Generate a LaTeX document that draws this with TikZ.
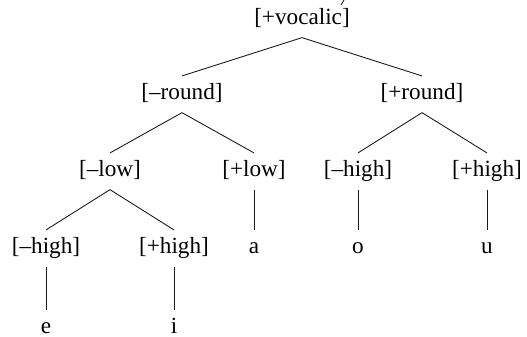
\documentclass[tikz,border=0pt]{standalone}
\usepackage{fontspec}
\setmainfont{Liberation Serif}
\usepackage{tikz}
\usetikzlibrary{positioning}
\tikzset{
  feat/.style={inner sep=0pt, text height=13.5pt, text depth=7pt, anchor=base,
    font=\fontsize{13.2}{16}\selectfont},
  branch/.style={black!90, line width=0.5pt}
}
\begin{document}
\begin{tikzpicture}[x=0.02cm, y=-0.02cm]
          \useasboundingbox (0,0) rectangle (527,337);
          % Root
          \node[feat] (vocalic) at (302,25) {[+vocalic]};
          \coordinate (cut) at (344,0);
          \coordinate (cutend) at (341,5);
          \draw[branch] (cut) -- (cutend);
          % Round
          \node[feat] (nround) at (182,100) {[--round]};
          \node[feat] (pround) at (422,100) {[+round]};
          % Low and high
          \node[feat] (nlow) at (110,177) {[--low]};
          \node[feat] (plow) at (254,177) {[+low]};
          \node[feat] (rnhigh) at (358,177) {[--high]};
          \node[feat] (rphigh) at (487,177) {[+high]};
          \node[feat] (lnhigh) at (46,254) {[--high]};
          \node[feat] (lphigh) at (174,254) {[+high]};
          % Vowels
          \node[feat] (a) at (254,254) {a};
          \node[feat] (o) at (358,254) {o};
          \node[feat] (u) at (487,254) {u};
          \node[feat] (e) at (46,334) {e};
          \node[feat] (i) at (174,334) {i};
          % Branches
          \draw[branch] (vocalic.south) -- (nround.north);
          \draw[branch] (vocalic.south) -- (pround.north);
          \draw[branch] (nround.south) -- (nlow.north);
          \draw[branch] (nround.south) -- (plow.north);
          \draw[branch] (pround.south) -- (rnhigh.north);
          \draw[branch] (pround.south) -- (rphigh.north);
          \draw[branch] (nlow.south) -- (lnhigh.north);
          \draw[branch] (nlow.south) -- (lphigh.north);
          \draw[branch] (plow.south) -- (a.north);
          \draw[branch] (rnhigh.south) -- (o.north);
          \draw[branch] (rphigh.south) -- (u.north);
          \draw[branch] (lnhigh.south) -- (e.north);
          \draw[branch] (lphigh.south) -- (i.north);
        \end{tikzpicture}
\end{document}
